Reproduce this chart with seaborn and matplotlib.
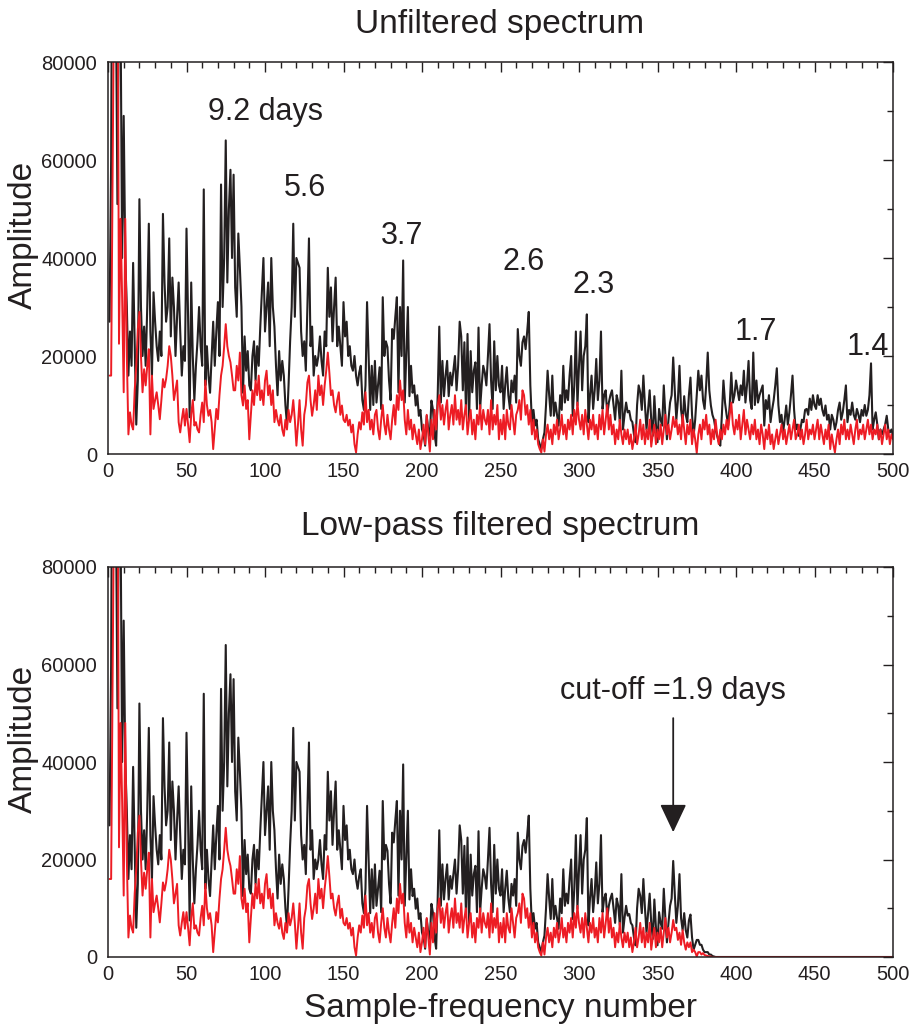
import numpy as np
import matplotlib
matplotlib.use("Agg")
import matplotlib.pyplot as plt
import seaborn as sns
from matplotlib.ticker import MultipleLocator

# ---------------- data (amplitude in thousands) ----------------
black_001_100 = [
    27, 60, 140, 110, 95, 51, 100, 90, 40, 69,
    40, 30, 16, 25, 18, 39, 22, 6, 15, 52,
    30, 20, 26, 18, 30, 47, 25, 16, 33, 27,
    22, 19, 25, 20, 49, 35, 27, 30, 44, 24,
    36, 30, 20, 28, 35, 25, 16, 22, 19, 46,
    28, 7.5, 35, 20, 11, 18, 23, 30, 22, 18,
    54, 14, 22, 16, 12.5, 20, 27, 18, 25, 31,
    20, 55, 30, 40, 64, 35, 50, 58, 40, 57,
    34, 28, 45, 38, 30, 12.5, 24, 17, 21, 14,
    13, 20, 23, 15, 22, 18, 26, 33, 40, 25]
black_101_200 = [
    30, 35, 22, 40, 30, 26, 18, 12, 21, 15,
    19, 16, 10, 6, 14, 23, 30, 47, 28, 40,
    39, 38, 25, 20, 23, 17, 30, 44, 22, 26,
    16, 20, 18, 20, 24, 19, 16, 25, 22, 38,
    28, 34, 23, 30, 36, 22, 26, 22, 18, 31,
    24, 27, 20, 22, 18, 17, 20, 16, 14, 16.6,
    18, 11, 9, 14, 31, 20, 9, 18, 10, 19,
    10.5, 14, 17.7, 9.2, 32, 20, 23, 21.8, 15, 11,
    25.5, 23.5, 28, 32, 12.6, 30, 20, 39.5, 10.5, 20,
    30, 11.8, 18, 12.5, 14, 9.9, 12, 7.8, 9, 5]
black_201_300 = [
    4, 1.7, 7.8, 5, 3.7, 10.9, 9, 4, 1.7, 12,
    26, 10.5, 19, 11.8, 16, 19, 11.8, 16.6, 14, 17,
    20, 13, 18, 27, 24, 13, 22.8, 8.5, 24.5, 7,
    21, 12.6, 17, 18.7, 9.2, 25.8, 9.2, 14, 18, 16.6,
    14, 20, 26.5, 15, 9.2, 23, 13, 20, 14, 12.6,
    18, 9.2, 14, 17.7, 12, 9.2, 15, 12.6, 16, 10.5,
    25.5, 20, 18, 22.8, 24, 21.4, 25, 29, 14, 6.5,
    9, 5.8, 7, 3, 2, 1, 3, 4.4, 10, 17,
    12, 7.8, 16, 7.8, 10.5, 8, 5.8, 12, 9, 18,
    10.5, 13, 11, 16, 20, 7.8, 14, 25, 9.9, 18]
black_301_400 = [
    25, 13, 20, 22, 28.5, 6.5, 12, 16, 9.2, 13,
    19.4, 11, 15, 25, 9.2, 12, 13, 8, 10.5, 12,
    13, 10, 7, 12, 10.5, 6.5, 17, 5, 8, 10.5,
    8.5, 8.8, 7, 6.5, 4, 2.4, 10, 14, 12.6, 9,
    16, 10, 5, 9, 13, 7, 3.7, 11.8, 6, 2.4,
    9.2, 7, 5.8, 14, 8, 3, 7, 10.5, 12, 19.7,
    13, 7, 11, 18, 9, 6.5, 11.8, 8, 6.5, 12,
    15.6, 8, 3.7, 7, 12, 17, 13, 16, 11, 9.2,
    14, 20.7, 13, 9.9, 8, 7, 5, 3.7, 2.5, 1.7,
    8, 15, 10.5, 8, 5.8, 10, 16.6, 10.5, 12, 15]
black_401_500 = [
    13, 11, 14, 12, 17, 10.5, 14, 19, 11, 9.2,
    20.7, 10, 15, 10.5, 12, 13, 14, 5.8, 11, 9.2,
    12, 6.5, 9, 11, 14, 17.5, 10, 6.5, 8, 4.4,
    7, 9.9, 6, 8.5, 12, 16, 9, 5, 6, 3.7,
    5, 7, 6.5, 9, 9.2, 8, 11.3, 9, 12, 10,
    9.2, 12, 10, 11.3, 9, 7.8, 9.9, 7, 8, 5,
    8, 7, 5, 6.5, 9, 10.5, 7, 8.5, 11, 14,
    6.5, 9, 8, 10.5, 8, 7, 9.2, 8, 6.5, 9,
    7.8, 10, 7.8, 9, 12, 18.5, 5, 7, 8.5, 6,
    3, 5, 4, 5, 6, 7.8, 5, 4.4, 5, 3.7]

red_001_100 = [
    16, 16, 60, 100, 85, 120, 22.5, 48, 32, 12.6,
    48, 20, 4, 8.5, 6, 5, 13, 18, 25.5, 29,
    20, 12.6, 17.3, 14, 18, 21.4, 4, 16, 9.2, 11,
    12.6, 10, 7.1, 11, 15.3, 13.6, 15.3, 18, 22, 20,
    16, 11, 13, 15, 6.5, 4.4, 7, 9.2, 5.8, 9.2,
    6, 2.4, 8, 11, 5.8, 6.5, 5, 4.4, 8, 10.5,
    6.5, 15, 10, 7.8, 9, 6.5, 1, 5, 9.2, 7.1,
    12, 16, 18, 22, 26.5, 22, 20, 18.7, 16, 13,
    13, 18, 15, 20.7, 12, 9.9, 14, 9.2, 11, 3,
    8, 13, 10, 15, 12, 16, 11, 13, 10, 15]
red_101_200 = [
    17, 12, 14, 10, 13, 6.5, 9, 7, 5.8, 8,
    5, 3.7, 7, 5, 9, 6.5, 8, 11, 7, 1.7,
    6, 11, 5, 1.7, 8, 10, 14.6, 16, 11, 7.8,
    10, 13, 9, 16, 12, 14, 10, 14, 17, 20.7,
    16.6, 12, 13, 10, 8.5, 11, 12.6, 8, 9.9, 7,
    6.5, 8, 5.8, 7, 4.4, 6, 2, 0.3, 4, 6.5,
    5, 8.5, 6, 12.6, 6.5, 9, 5, 7, 4, 8,
    9, 5, 3, 7, 10, 6, 4, 8, 5, 3,
    7, 10, 6, 12, 9, 15, 11, 13, 7, 4,
    9, 5, 7, 3, 6, 4, 2, 5, 1, 3]
red_201_300 = [
    6, 2, 8, 4, 0.5, 7, 3, 9, 5, 10,
    12, 7, 10, 6, 9, 11, 5, 8, 10, 6,
    12, 7, 9, 6, 11, 5, 8, 10, 4, 7,
    9, 4, 7, 3, 8, 6, 10, 5, 9, 7,
    6, 9, 4, 11, 5, 8, 6, 10, 3, 7,
    4, 8, 3, 9, 6, 5, 10, 7, 4, 8,
    9, 11, 7, 13, 12, 8, 10, 6, 9, 4,
    7, 3, 5, 2, 1, 0.3, 3, 0.5, 4, 6,
    3, 5, 2, 6, 4, 7, 3, 5, 8, 4,
    6, 3, 7, 5, 8, 4, 9, 6, 10.5, 7]
red_301_400 = [
    5, 8, 4, 9, 6, 3, 7, 5, 8, 4,
    6, 3, 8, 5, 9, 4, 7, 10, 5, 8,
    4, 6, 2, 5, 3, 7, 4, 2, 5, 3,
    5, 2, 4, 1, 3, 6, 2, 4, 7, 3,
    6, 2, 5, 3, 7, 1.5, 4, 6, 2, 5,
    3, 6, 2, 5, 8, 4, 6, 3, 5, 7.6,
    5.5, 7, 4, 6, 3, 8, 5, 2, 6, 4,
    7, 2, 5, 3, 0.2, 4, 6, 3, 7, 5,
    8, 4, 6, 2, 5, 3, 7, 4, 2, 5,
    3, 6, 4, 7, 5, 8, 10.5, 6, 4, 7]
red_401_500 = [
    5, 8, 3, 6, 9, 4, 7, 5, 3, 6,
    4, 7, 3, 5, 2, 6, 4, 1, 5, 3,
    6, 2, 4, 1, 3, 5, 2, 4, 6, 3,
    5, 2, 4, 6, 3, 5, 7, 3, 4, 6,
    3, 5, 2, 4, 7, 3, 5, 4, 6, 3,
    5, 7, 3, 6, 4, 2, 5, 3, 6, 1,
    4, 2, 0.3, 3, 5, 2, 6, 4, 7, 3,
    5, 3, 6, 4, 2, 5, 7, 3, 5, 4,
    6, 3, 5, 7, 4, 6, 3, 5, 4, 6,
    3, 5, 2, 4, 6, 3, 5, 2, 4, 3]

# low-pass filtered: identical up to 360, tapered tail, then zero
black_filtered_361_390 = [
    13, 7, 10.5, 17, 8, 5.5, 9, 5.5, 4, 7.5,
    8.7, 4, 1.5, 2.5, 3.5, 3.5, 2.5, 2.5, 1.5, 1,
    1, 1, 0.5, 0.5, 0.2, 0.1, 0, 0, 0, 0]
red_filtered_361_390 = [
    5.5, 6, 3.5, 5, 2.5, 5.5, 3, 1.5, 3, 2,
    3, 1, 1.5, 1, 0.1, 1, 1, 0.5, 0.8, 0.4,
    0.3, 0.2, 0.1, 0.1, 0, 0, 0, 0, 0, 0]
zeros_391_500 = [0] * 110

freq = np.arange(1, 501)
black = np.array(black_001_100 + black_101_200 + black_201_300 + black_301_400 + black_401_500) * 1000
red = np.array(red_001_100 + red_101_200 + red_201_300 + red_301_400 + red_401_500) * 1000
black_filt = np.array(black_001_100 + black_101_200 + black_201_300 + black_301_400[:60]
                      + black_filtered_361_390 + zeros_391_500) * 1000
red_filt = np.array(red_001_100 + red_101_200 + red_201_300 + red_301_400[:60]
                    + red_filtered_361_390 + zeros_391_500) * 1000

peak_labels = ["9.2 days", "5.6", "3.7", "2.6", "2.3", "1.7", "1.4"]
peak_x = [100.6, 125.5, 187.3, 265, 309.6, 412.7, 484]
peak_y = [69800, 54300, 44500, 39200, 34500, 24900, 21800]

x_ticks = list(range(0, 501, 50))
y_ticks = [0, 20000, 40000, 60000, 80000]

# ---------------- styling ----------------
sns.set_theme(style="white")
plt.rcParams["font.family"] = ["Liberation Sans", "DejaVu Sans"]
INK = "#231f20"
RED = "#ed1c24"

fig = plt.figure(figsize=(9.12, 10.32), dpi=100)
ax1 = fig.add_axes([108 / 912, 1 - 454 / 1032, 785 / 912, 392 / 1032])
ax2 = fig.add_axes([108 / 912, 1 - 957 / 1032, 785 / 912, 390 / 1032])

for ax, yb, yr in [(ax1, black, red), (ax2, black_filt, red_filt)]:
    sns.lineplot(x=freq, y=yb, color=INK, lw=1.5, ax=ax, estimator=None)
    sns.lineplot(x=freq, y=yr, color=RED, lw=1.4, ax=ax, estimator=None)
    ax.set_xlim(0, 500)
    ax.set_ylim(0, 80000)
    ax.set_xticks(x_ticks)
    ax.set_yticks(y_ticks)
    ax.xaxis.set_minor_locator(MultipleLocator(10))
    ax.yaxis.set_minor_locator(MultipleLocator(10000))
    ax.tick_params(which="both", direction="in", top=True, right=True,
                   colors=INK, labelsize=14.5, width=1)
    ax.tick_params(which="major", length=7)
    ax.tick_params(which="minor", length=4)
    ax.tick_params(axis="x", pad=6)
    ax.tick_params(axis="y", pad=8)
    for s in ax.spines.values():
        s.set_color(INK)
        s.set_linewidth(1.1)
    ax.set_ylabel("Amplitude", fontsize=24, color=INK)
    ax.yaxis.set_label_coords(-0.088, 0.56)
    ax.set_xlabel("")

for lab, px, py in zip(peak_labels, peak_x, peak_y):
    ax1.text(px, py, lab, ha="center", va="center", fontsize=22, color=INK)

ax2.set_xlabel("Sample-frequency number", fontsize=24, color=INK, labelpad=6)

fig.text(500 / 912, 1 - 24 / 1032, "Unfiltered spectrum", ha="center", va="center",
         fontsize=24, color=INK)
fig.text(500 / 912, 1 - 527 / 1032, "Low-pass filtered spectrum", ha="center", va="center",
         fontsize=24, color=INK)

ax2.text(360, 54500, "cut-off =1.9 days", ha="center", va="center", fontsize=22, color=INK)
ax2.annotate("", xy=(360, 25600), xytext=(360, 49000),
             arrowprops=dict(arrowstyle="-|>,head_length=0.7,head_width=0.33",
                             mutation_scale=25, color=INK, lw=1.3, shrinkA=0, shrinkB=0))

fig.savefig("out.png", dpi=100, facecolor="white")
